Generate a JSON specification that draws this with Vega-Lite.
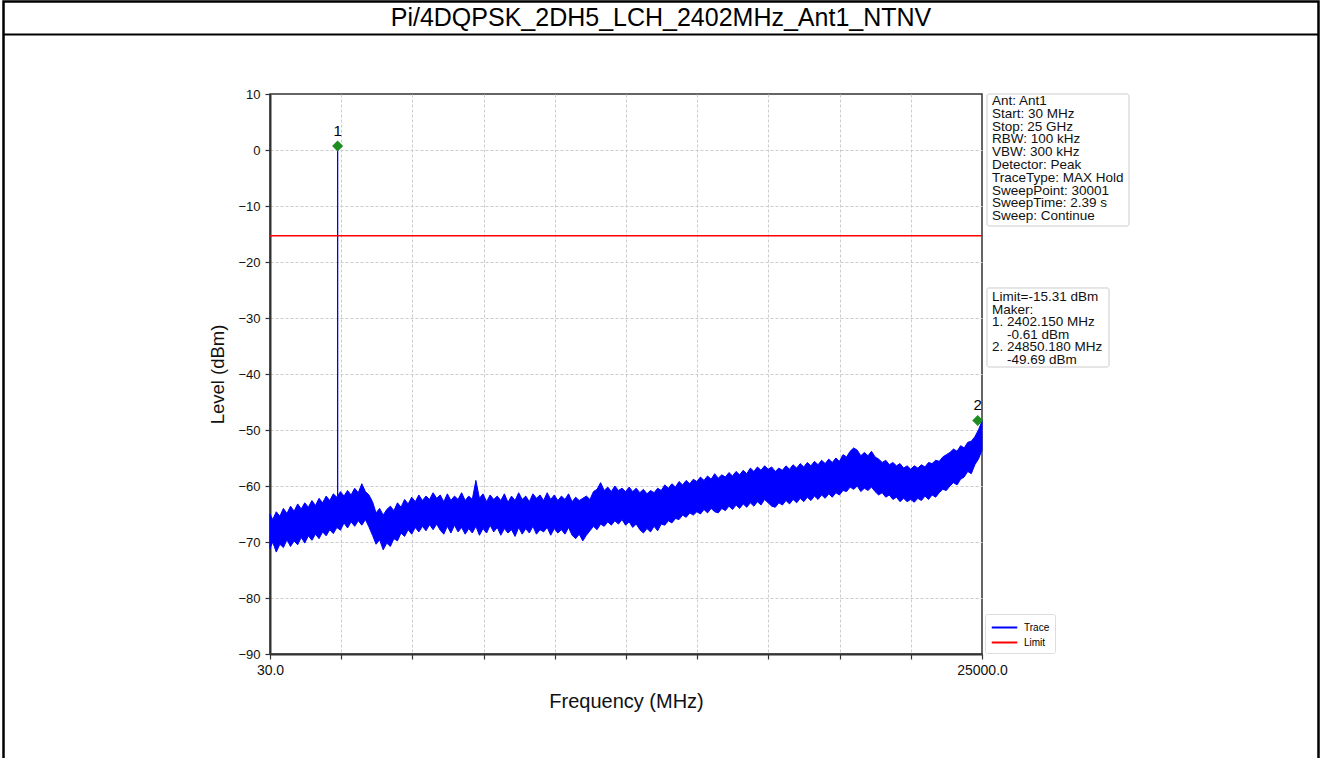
{
  "$schema": "https://vega.github.io/schema/vega-lite/v6.json",
  "width": 712,
  "height": 560,
  "autosize": "none",
  "padding": {"left": 270, "top": 94, "right": 340, "bottom": 104},
  "background": "white",
  "config": {
    "font": "Liberation Sans",
    "view": {"stroke": "#333", "strokeWidth": 1.5},
    "axis": {
      "labelFont": "Liberation Sans",
      "titleFont": "Liberation Sans",
      "labelFontSize": 13,
      "titleFontWeight": "normal",
      "labelColor": "#111",
      "titleColor": "#111",
      "domainColor": "#333",
      "domainWidth": 2,
      "tickColor": "#333",
      "tickSize": 5,
      "tickWidth": 1.2,
      "gridColor": "#cccccc",
      "gridDash": [3, 2],
      "gridWidth": 1
    },
    "legend": {
      "orient": "none",
      "legendX": 715,
      "legendY": 520,
      "title": null,
      "symbolType": "M-0.9,0H2.5",
      "symbolSize": 225,
      "symbolStrokeWidth": 2,
      "labelOffset": 17,
      "labelFontSize": 10,
      "labelFont": "Liberation Sans",
      "strokeColor": "#dddddd",
      "fillColor": "white",
      "padding": 5,
      "rowPadding": 1,
      "cornerRadius": 2
    }
  },
  "datasets": {
    "frame": [{"f": -9316, "f2": 36801, "level": 26.52, "level2": -109.5}],
    "titleLine": [{"f": -9316, "f2": 36801, "level": 20.63}],
    "titleText": [{"f": 13742, "level": 23.57, "label": "Pi/4DQPSK_2DH5_LCH_2402MHz_Ant1_NTNV"}],
    "boxes": [
      {"f": 25175, "f2": 30155, "level": 10, "level2": -13.57},
      {"f": 25175, "f2": 29454, "level": -24.64, "level2": -38.75}
    ],
    "texts": [
      {"f": 25351, "level": 8.75, "label": "Ant: Ant1"},
      {"f": 25351, "level": 6.464, "label": "Start: 30 MHz"},
      {"f": 25351, "level": 4.179, "label": "Stop: 25 GHz"},
      {"f": 25351, "level": 1.893, "label": "RBW: 100 kHz"},
      {"f": 25351, "level": -0.393, "label": "VBW: 300 kHz"},
      {"f": 25351, "level": -2.679, "label": "Detector: Peak"},
      {"f": 25351, "level": -4.964, "label": "TraceType: MAX Hold"},
      {"f": 25351, "level": -7.25, "label": "SweepPoint: 30001"},
      {"f": 25351, "level": -9.536, "label": "SweepTime: 2.39 s"},
      {"f": 25351, "level": -11.821, "label": "Sweep: Continue"},
      {"f": 25351, "level": -26.25, "label": "Limit=-15.31 dBm"},
      {"f": 25351, "level": -28.5, "label": "Maker:"},
      {"f": 25351, "level": -30.75, "label": "1. 2402.150 MHz"},
      {"f": 25877, "level": -33.0, "label": "-0.61 dBm"},
      {"f": 25351, "level": -35.25, "label": "2. 24850.180 MHz"},
      {"f": 25877, "level": -37.5, "label": "-49.69 dBm"}
    ],
    "band": [
      {"f": 30, "lo": -71.2, "hi": -65.0}, {"f": 125, "lo": -70.0, "hi": -66.0}, {"f": 250, "lo": -71.8, "hi": -64.6}, {"f": 375, "lo": -70.4, "hi": -65.4},
      {"f": 500, "lo": -71.0, "hi": -64.0}, {"f": 625, "lo": -69.6, "hi": -64.9}, {"f": 750, "lo": -70.8, "hi": -63.6}, {"f": 875, "lo": -69.8, "hi": -64.5},
      {"f": 1000, "lo": -70.5, "hi": -63.2}, {"f": 1125, "lo": -69.2, "hi": -64.1}, {"f": 1250, "lo": -70.2, "hi": -63.0}, {"f": 1375, "lo": -68.9, "hi": -63.8},
      {"f": 1500, "lo": -69.7, "hi": -62.6}, {"f": 1625, "lo": -68.6, "hi": -63.5}, {"f": 1750, "lo": -69.4, "hi": -62.2}, {"f": 1875, "lo": -68.2, "hi": -63.0},
      {"f": 2000, "lo": -68.9, "hi": -61.8}, {"f": 2125, "lo": -67.8, "hi": -62.6}, {"f": 2250, "lo": -68.5, "hi": -61.4}, {"f": 2375, "lo": -67.4, "hi": -62.0},
      {"f": 2500, "lo": -67.9, "hi": -61.0}, {"f": 2625, "lo": -66.6, "hi": -61.8}, {"f": 2750, "lo": -67.5, "hi": -60.8}, {"f": 2875, "lo": -66.4, "hi": -61.6},
      {"f": 3000, "lo": -67.2, "hi": -60.4}, {"f": 3125, "lo": -66.2, "hi": -61.2}, {"f": 3250, "lo": -67.0, "hi": -59.6}, {"f": 3375, "lo": -66.0, "hi": -61.0},
      {"f": 3500, "lo": -67.3, "hi": -61.6}, {"f": 3625, "lo": -68.8, "hi": -62.8}, {"f": 3750, "lo": -70.4, "hi": -64.8}, {"f": 3875, "lo": -69.6, "hi": -64.0},
      {"f": 4000, "lo": -71.4, "hi": -65.2}, {"f": 4125, "lo": -70.2, "hi": -64.2}, {"f": 4250, "lo": -70.8, "hi": -63.6}, {"f": 4375, "lo": -69.4, "hi": -64.4},
      {"f": 4500, "lo": -69.8, "hi": -63.0}, {"f": 4625, "lo": -68.4, "hi": -63.8}, {"f": 4750, "lo": -69.0, "hi": -62.4}, {"f": 4875, "lo": -67.8, "hi": -63.2},
      {"f": 5000, "lo": -68.6, "hi": -62.0}, {"f": 5125, "lo": -67.4, "hi": -62.8}, {"f": 5250, "lo": -68.2, "hi": -61.6}, {"f": 5375, "lo": -67.2, "hi": -62.6},
      {"f": 5500, "lo": -68.0, "hi": -61.8}, {"f": 5625, "lo": -66.9, "hi": -62.4}, {"f": 5750, "lo": -67.8, "hi": -61.2}, {"f": 5875, "lo": -66.8, "hi": -62.2},
      {"f": 6000, "lo": -67.9, "hi": -61.6}, {"f": 6125, "lo": -68.6, "hi": -62.8}, {"f": 6250, "lo": -67.2, "hi": -61.4}, {"f": 6375, "lo": -68.4, "hi": -62.6},
      {"f": 6500, "lo": -67.0, "hi": -61.8}, {"f": 6625, "lo": -68.2, "hi": -62.4}, {"f": 6750, "lo": -67.4, "hi": -61.2}, {"f": 6875, "lo": -68.6, "hi": -62.6},
      {"f": 7000, "lo": -67.6, "hi": -61.8}, {"f": 7125, "lo": -68.4, "hi": -62.4}, {"f": 7250, "lo": -67.2, "hi": -59.0}, {"f": 7375, "lo": -68.8, "hi": -62.2},
      {"f": 7500, "lo": -67.6, "hi": -61.4}, {"f": 7625, "lo": -68.4, "hi": -62.8}, {"f": 7750, "lo": -67.0, "hi": -61.6}, {"f": 7875, "lo": -68.2, "hi": -62.4},
      {"f": 8000, "lo": -67.4, "hi": -61.8}, {"f": 8125, "lo": -68.8, "hi": -62.6}, {"f": 8250, "lo": -67.6, "hi": -61.4}, {"f": 8375, "lo": -68.4, "hi": -62.9},
      {"f": 8500, "lo": -67.8, "hi": -61.8}, {"f": 8625, "lo": -69.0, "hi": -62.6}, {"f": 8750, "lo": -67.4, "hi": -61.2}, {"f": 8875, "lo": -68.6, "hi": -62.4},
      {"f": 9000, "lo": -67.6, "hi": -61.8}, {"f": 9125, "lo": -68.4, "hi": -62.8}, {"f": 9250, "lo": -67.2, "hi": -61.4}, {"f": 9375, "lo": -68.6, "hi": -62.2},
      {"f": 9500, "lo": -67.8, "hi": -61.6}, {"f": 9625, "lo": -68.2, "hi": -62.6}, {"f": 9750, "lo": -67.4, "hi": -61.2}, {"f": 9875, "lo": -68.8, "hi": -62.4},
      {"f": 10000, "lo": -67.6, "hi": -61.6}, {"f": 10125, "lo": -68.4, "hi": -62.6}, {"f": 10250, "lo": -67.8, "hi": -61.8}, {"f": 10375, "lo": -68.6, "hi": -62.4},
      {"f": 10500, "lo": -67.4, "hi": -61.4}, {"f": 10625, "lo": -68.8, "hi": -62.8}, {"f": 10750, "lo": -69.4, "hi": -62.0}, {"f": 10875, "lo": -68.6, "hi": -62.6},
      {"f": 11000, "lo": -69.8, "hi": -62.2}, {"f": 11125, "lo": -68.8, "hi": -61.8}, {"f": 11250, "lo": -68.0, "hi": -62.4}, {"f": 11375, "lo": -67.2, "hi": -61.0},
      {"f": 11500, "lo": -67.8, "hi": -60.6}, {"f": 11625, "lo": -66.8, "hi": -59.4}, {"f": 11750, "lo": -67.2, "hi": -60.8}, {"f": 11875, "lo": -66.4, "hi": -60.2},
      {"f": 12000, "lo": -67.0, "hi": -61.0}, {"f": 12125, "lo": -66.2, "hi": -60.0}, {"f": 12250, "lo": -66.8, "hi": -60.8}, {"f": 12375, "lo": -66.0, "hi": -60.4},
      {"f": 12500, "lo": -67.0, "hi": -61.0}, {"f": 12625, "lo": -66.4, "hi": -60.2}, {"f": 12750, "lo": -67.4, "hi": -61.0}, {"f": 12875, "lo": -66.8, "hi": -60.4},
      {"f": 13000, "lo": -67.8, "hi": -61.2}, {"f": 13125, "lo": -68.4, "hi": -60.6}, {"f": 13250, "lo": -67.6, "hi": -61.4}, {"f": 13375, "lo": -68.2, "hi": -60.8},
      {"f": 13500, "lo": -67.2, "hi": -61.2}, {"f": 13625, "lo": -68.0, "hi": -60.4}, {"f": 13750, "lo": -66.8, "hi": -60.8}, {"f": 13875, "lo": -67.0, "hi": -59.8},
      {"f": 14000, "lo": -66.2, "hi": -60.4}, {"f": 14125, "lo": -66.6, "hi": -59.6}, {"f": 14250, "lo": -65.8, "hi": -60.2}, {"f": 14375, "lo": -66.0, "hi": -59.2},
      {"f": 14500, "lo": -65.2, "hi": -59.8}, {"f": 14625, "lo": -65.6, "hi": -59.0}, {"f": 14750, "lo": -64.8, "hi": -59.6}, {"f": 14875, "lo": -65.2, "hi": -58.8},
      {"f": 15000, "lo": -64.6, "hi": -59.2}, {"f": 15125, "lo": -65.0, "hi": -58.4}, {"f": 15250, "lo": -64.2, "hi": -59.0}, {"f": 15375, "lo": -64.8, "hi": -58.2},
      {"f": 15500, "lo": -64.0, "hi": -58.8}, {"f": 15625, "lo": -64.6, "hi": -57.8}, {"f": 15750, "lo": -64.8, "hi": -58.6}, {"f": 15875, "lo": -64.0, "hi": -58.0},
      {"f": 16000, "lo": -64.4, "hi": -58.4}, {"f": 16125, "lo": -63.6, "hi": -57.6}, {"f": 16250, "lo": -64.2, "hi": -58.2}, {"f": 16375, "lo": -63.4, "hi": -57.4},
      {"f": 16500, "lo": -64.0, "hi": -58.0}, {"f": 16625, "lo": -63.2, "hi": -57.2}, {"f": 16750, "lo": -63.8, "hi": -57.8}, {"f": 16875, "lo": -63.0, "hi": -56.8},
      {"f": 17000, "lo": -63.6, "hi": -57.4}, {"f": 17125, "lo": -62.8, "hi": -56.6}, {"f": 17250, "lo": -63.4, "hi": -57.2}, {"f": 17375, "lo": -62.4, "hi": -56.4},
      {"f": 17500, "lo": -63.0, "hi": -57.0}, {"f": 17625, "lo": -63.6, "hi": -56.6}, {"f": 17750, "lo": -63.8, "hi": -57.4}, {"f": 17875, "lo": -63.0, "hi": -56.8},
      {"f": 18000, "lo": -63.4, "hi": -57.2}, {"f": 18125, "lo": -62.6, "hi": -56.4}, {"f": 18250, "lo": -63.2, "hi": -57.0}, {"f": 18375, "lo": -62.4, "hi": -56.2},
      {"f": 18500, "lo": -63.0, "hi": -56.8}, {"f": 18625, "lo": -62.2, "hi": -56.0}, {"f": 18750, "lo": -62.8, "hi": -56.6}, {"f": 18875, "lo": -62.0, "hi": -55.8},
      {"f": 19000, "lo": -62.6, "hi": -56.4}, {"f": 19125, "lo": -61.8, "hi": -55.6}, {"f": 19250, "lo": -62.4, "hi": -56.2}, {"f": 19375, "lo": -61.6, "hi": -55.4},
      {"f": 19500, "lo": -62.2, "hi": -56.0}, {"f": 19625, "lo": -61.4, "hi": -55.2}, {"f": 19750, "lo": -62.0, "hi": -55.8}, {"f": 19875, "lo": -61.2, "hi": -55.0},
      {"f": 20000, "lo": -61.6, "hi": -55.6}, {"f": 20125, "lo": -60.8, "hi": -54.4}, {"f": 20250, "lo": -61.0, "hi": -54.8}, {"f": 20375, "lo": -60.2, "hi": -53.8},
      {"f": 20500, "lo": -60.6, "hi": -53.2}, {"f": 20625, "lo": -60.0, "hi": -53.6}, {"f": 20750, "lo": -61.0, "hi": -54.6}, {"f": 20875, "lo": -60.4, "hi": -54.0},
      {"f": 21000, "lo": -60.8, "hi": -54.6}, {"f": 21125, "lo": -60.2, "hi": -53.8}, {"f": 21250, "lo": -61.0, "hi": -54.8}, {"f": 21375, "lo": -61.6, "hi": -55.2},
      {"f": 21500, "lo": -61.2, "hi": -55.8}, {"f": 21625, "lo": -62.0, "hi": -55.4}, {"f": 21750, "lo": -61.6, "hi": -56.2}, {"f": 21875, "lo": -62.4, "hi": -55.8},
      {"f": 22000, "lo": -62.0, "hi": -56.4}, {"f": 22125, "lo": -62.8, "hi": -56.0}, {"f": 22250, "lo": -62.2, "hi": -56.8}, {"f": 22375, "lo": -62.8, "hi": -56.4},
      {"f": 22500, "lo": -62.4, "hi": -57.0}, {"f": 22625, "lo": -62.9, "hi": -56.4}, {"f": 22750, "lo": -62.2, "hi": -56.8}, {"f": 22875, "lo": -62.6, "hi": -56.2},
      {"f": 23000, "lo": -61.8, "hi": -56.6}, {"f": 23125, "lo": -62.4, "hi": -55.8}, {"f": 23250, "lo": -61.6, "hi": -56.0}, {"f": 23375, "lo": -62.0, "hi": -55.4},
      {"f": 23500, "lo": -61.2, "hi": -55.6}, {"f": 23625, "lo": -60.6, "hi": -54.8}, {"f": 23750, "lo": -60.8, "hi": -54.4}, {"f": 23875, "lo": -60.0, "hi": -54.0},
      {"f": 24000, "lo": -59.4, "hi": -53.4}, {"f": 24125, "lo": -59.8, "hi": -53.8}, {"f": 24250, "lo": -58.8, "hi": -52.8}, {"f": 24375, "lo": -58.4, "hi": -53.2},
      {"f": 24500, "lo": -57.4, "hi": -52.2}, {"f": 24625, "lo": -57.8, "hi": -52.0}, {"f": 24750, "lo": -56.2, "hi": -51.2}, {"f": 24875, "lo": -55.2, "hi": -50.0},
      {"f": 25000, "lo": -53.6, "hi": -48.4}
    ],
    "lines": [
      {"series": "Trace", "f": 2402.15, "level": -62.0},
      {"series": "Trace", "f": 2402.15, "level": 0.61},
      {"series": "Limit", "f": 30, "level": -15.31},
      {"series": "Limit", "f": 25000, "level": -15.31}
    ],
    "markers": [
      {"f": 2402.15, "level": 0.7, "label": "1"},
      {"f": 24850.18, "level": -48.3, "label": "2"}
    ]
  },
  "layer": [
    {
      "data": {"name": "frame"},
      "mark": {"type": "rect", "fill": null, "fillOpacity": 0, "stroke": "#000", "strokeWidth": 2.5},
      "encoding": {
        "x": {"field": "f", "type": "quantitative", "title": "Frequency (MHz)", "scale": {"domain": [30, 25000], "nice": false, "zero": false}},
        "x2": {"field": "f2"},
        "y": {"field": "level", "type": "quantitative", "title": "Level (dBm)", "scale": {"domain": [-90, 10], "nice": false, "zero": false}},
        "y2": {"field": "level2"}
      }
    },
    {
      "data": {"name": "titleLine"},
      "mark": {"type": "rule", "stroke": "#000", "strokeWidth": 2},
      "encoding": {
        "x": {"field": "f", "type": "quantitative", "title": "Frequency (MHz)", "scale": {"domain": [30, 25000], "nice": false, "zero": false}},
        "x2": {"field": "f2"},
        "y": {"field": "level", "type": "quantitative", "title": "Level (dBm)", "scale": {"domain": [-90, 10], "nice": false, "zero": false}}
      }
    },
    {
      "data": {"name": "titleText"},
      "mark": {"type": "text", "fontSize": 25, "font": "Liberation Sans", "align": "center", "baseline": "middle", "color": "#000"},
      "encoding": {
        "x": {"field": "f", "type": "quantitative", "title": "Frequency (MHz)", "scale": {"domain": [30, 25000], "nice": false, "zero": false}},
        "y": {"field": "level", "type": "quantitative", "title": "Level (dBm)", "scale": {"domain": [-90, 10], "nice": false, "zero": false}},
        "text": {"field": "label"}
      }
    },
    {
      "data": {"name": "boxes"},
      "mark": {"type": "rect", "fill": "white", "stroke": "#cccccc", "strokeWidth": 1, "cornerRadius": 2},
      "encoding": {
        "x": {"field": "f", "type": "quantitative", "title": "Frequency (MHz)", "scale": {"domain": [30, 25000], "nice": false, "zero": false}},
        "x2": {"field": "f2"},
        "y": {"field": "level", "type": "quantitative", "title": "Level (dBm)", "scale": {"domain": [-90, 10], "nice": false, "zero": false}},
        "y2": {"field": "level2"}
      }
    },
    {
      "data": {"name": "texts"},
      "mark": {"type": "text", "fontSize": 13.5, "font": "Liberation Sans", "align": "left", "baseline": "middle", "color": "#111"},
      "encoding": {
        "x": {"field": "f", "type": "quantitative", "title": "Frequency (MHz)", "scale": {"domain": [30, 25000], "nice": false, "zero": false}},
        "y": {"field": "level", "type": "quantitative", "title": "Level (dBm)", "scale": {"domain": [-90, 10], "nice": false, "zero": false}},
        "text": {"field": "label"}
      }
    },
    {
      "data": {"name": "band"},
      "mark": {"type": "area", "color": "#0000ff", "stroke": "#0000ff", "strokeWidth": 1, "opacity": 1},
      "encoding": {
        "x": {
          "field": "f", "type": "quantitative", "title": "Frequency (MHz)",
          "scale": {"domain": [30, 25000], "nice": false, "zero": false},
          "axis": {
            "values": [30, 2527, 5024, 7521, 10018, 12515, 15012, 17509, 20006, 22503, 25000],
            "labelExpr": "datum.value == 30 || datum.value == 25000 ? format(datum.value, '.1f') : ''",
            "labelFontSize": 14,
            "labelPadding": 4,
            "titleFontSize": 20,
            "titlePadding": 14,
            "labelFlush": false,
            "labelOverlap": false,
            "gridOpacity": {"condition": {"test": "datum.value == 30 || datum.value == 25000", "value": 0}, "value": 1}
          }
        },
        "y": {
          "field": "lo", "type": "quantitative", "title": "Level (dBm)",
          "scale": {"domain": [-90, 10], "nice": false, "zero": false},
          "axis": {
            "values": [-90, -80, -70, -60, -50, -40, -30, -20, -10, 0, 10],
            "labelPadding": 5,
            "titleFontSize": 18.5,
            "titlePadding": 10,
            "gridOpacity": {"condition": {"test": "datum.value == 10 || datum.value == -90", "value": 0}, "value": 1}
          }
        },
        "y2": {"field": "hi"}
      }
    },
    {
      "data": {"name": "lines"},
      "mark": {"type": "line", "strokeWidth": 1.3},
      "encoding": {
        "x": {"field": "f", "type": "quantitative", "title": "Frequency (MHz)", "scale": {"domain": [30, 25000], "nice": false, "zero": false}},
        "y": {"field": "level", "type": "quantitative", "title": "Level (dBm)", "scale": {"domain": [-90, 10], "nice": false, "zero": false}},
        "color": {"field": "series", "type": "nominal", "scale": {"domain": ["Trace", "Limit"], "range": ["#0000ff", "#ff0000"]}}
      }
    },
    {
      "data": {"name": "markers"},
      "mark": {"type": "point", "shape": "diamond", "filled": true, "color": "#1e8c1e", "size": 120, "opacity": 1},
      "encoding": {
        "x": {"field": "f", "type": "quantitative", "title": "Frequency (MHz)", "scale": {"domain": [30, 25000], "nice": false, "zero": false}},
        "y": {"field": "level", "type": "quantitative", "title": "Level (dBm)", "scale": {"domain": [-90, 10], "nice": false, "zero": false}}
      }
    },
    {
      "data": {"name": "markers"},
      "mark": {"type": "text", "fontSize": 15, "font": "Liberation Sans", "dy": -15, "color": "#000"},
      "encoding": {
        "x": {"field": "f", "type": "quantitative", "title": "Frequency (MHz)", "scale": {"domain": [30, 25000], "nice": false, "zero": false}},
        "y": {"field": "level", "type": "quantitative", "title": "Level (dBm)", "scale": {"domain": [-90, 10], "nice": false, "zero": false}},
        "text": {"field": "label"}
      }
    }
  ]
}
